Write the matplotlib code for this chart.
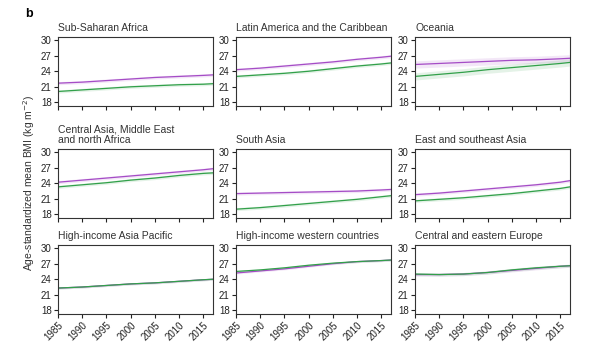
import matplotlib.pyplot as plt
import numpy as np

plt.rcParams['font.family'] = ['Liberation Sans', 'DejaVu Sans']

# Years
years = [1985, 1990, 1995, 2000, 2005, 2010, 2015, 2017]

regions = ["Sub-Saharan Africa", "Latin America and the Caribbean", "Oceania",
           "Central Asia, Middle East\nand north Africa", "South Asia", "East and southeast Asia",
           "High-income Asia Pacific", "High-income western countries", "Central and eastern Europe"]

# purple series (urban) and green series (rural)
urban = [
    [21.7, 21.9, 22.2, 22.5, 22.8, 23.0, 23.2, 23.3],
    [24.3, 24.6, 25.0, 25.4, 25.8, 26.3, 26.7, 26.9],
    [25.3, 25.5, 25.7, 25.9, 26.1, 26.2, 26.4, 26.5],
    [24.2, 24.6, 25.0, 25.4, 25.8, 26.2, 26.6, 26.8],
    [22.0, 22.1, 22.2, 22.3, 22.4, 22.5, 22.7, 22.8],
    [21.8, 22.1, 22.5, 22.9, 23.3, 23.7, 24.2, 24.5],
    [22.3, 22.5, 22.8, 23.1, 23.3, 23.6, 23.9, 24.0],
    [25.2, 25.6, 26.0, 26.5, 27.0, 27.4, 27.6, 27.7],
    [24.9, 24.9, 25.0, 25.3, 25.7, 26.1, 26.5, 26.6],
]
rural = [
    [20.1, 20.4, 20.7, 21.0, 21.2, 21.4, 21.5, 21.6],
    [23.0, 23.3, 23.6, 24.0, 24.5, 25.0, 25.4, 25.6],
    [23.0, 23.4, 23.8, 24.3, 24.7, 25.1, 25.5, 25.7],
    [23.3, 23.7, 24.1, 24.6, 25.0, 25.5, 25.9, 26.0],
    [19.0, 19.3, 19.7, 20.1, 20.5, 20.9, 21.4, 21.6],
    [20.6, 20.9, 21.2, 21.6, 22.0, 22.5, 23.0, 23.3],
    [22.3, 22.5, 22.8, 23.1, 23.3, 23.6, 23.9, 24.0],
    [25.5, 25.8, 26.2, 26.7, 27.1, 27.4, 27.6, 27.7],
    [25.0, 24.9, 25.0, 25.3, 25.8, 26.2, 26.5, 26.6],
]
# half-width of the uncertainty band
urban_ci = [0.3, 0.3, 0.7, 0.3, 0.3, 0.3, 0.2, 0.2, 0.3]
rural_ci = [0.3, 0.3, 0.7, 0.3, 0.3, 0.3, 0.2, 0.2, 0.3]

yticks = [18, 21, 24, 27, 30]
xticks = [1985, 1990, 1995, 2000, 2005, 2010, 2015]

purple = '#a54cc6'
green = '#32a04a'

W, H = 604, 345
fig = plt.figure(figsize=(W / 100, H / 100), dpi=100)

lefts = [58, 236, 415]
tops = [37, 149, 245]
aw, ah = 155, 69

for i, name in enumerate(regions):
    r, c = divmod(i, 3)
    ax = fig.add_axes([lefts[c] / W, 1 - (tops[r] + ah) / H, aw / W, ah / H])
    u = np.array(urban[i])
    g = np.array(rural[i])
    ax.fill_between(years, u - urban_ci[i], u + urban_ci[i], color=purple, alpha=0.13, lw=0)
    ax.fill_between(years, g - rural_ci[i], g + rural_ci[i], color=green, alpha=0.13, lw=0)
    ax.plot(years, u, color=purple, lw=0.9)
    ax.plot(years, g, color=green, lw=0.9)
    ax.set_xlim(1985, 2017)
    ax.set_ylim(17.3, 30.6)
    ax.set_yticks(yticks)
    ax.set_xticks(xticks)
    ax.tick_params(direction='out', length=3, width=0.8, labelsize=7, pad=1.5, colors='#222222')
    for s in ax.spines.values():
        s.set_linewidth(0.8)
        s.set_color('#333333')
    if r == 2:
        ax.set_xticklabels([str(x) for x in xticks], rotation=45, ha='right', rotation_mode='anchor')
    else:
        ax.set_xticklabels([])
    ax.set_title(name, loc='left', fontsize=7.5, color='#333333', pad=4, linespacing=1.1)

fig.text(25 / W, 1 - 14 / H, 'b', fontsize=9, fontweight='bold', va='center', ha='left')
fig.text(29 / W, 1 - 183 / H, 'Age-standardized mean BMI (kg m$^{-2}$)', rotation=90,
         fontsize=7.5, va='center', ha='center', color='#333333')

fig.savefig('out.png', dpi=100)
